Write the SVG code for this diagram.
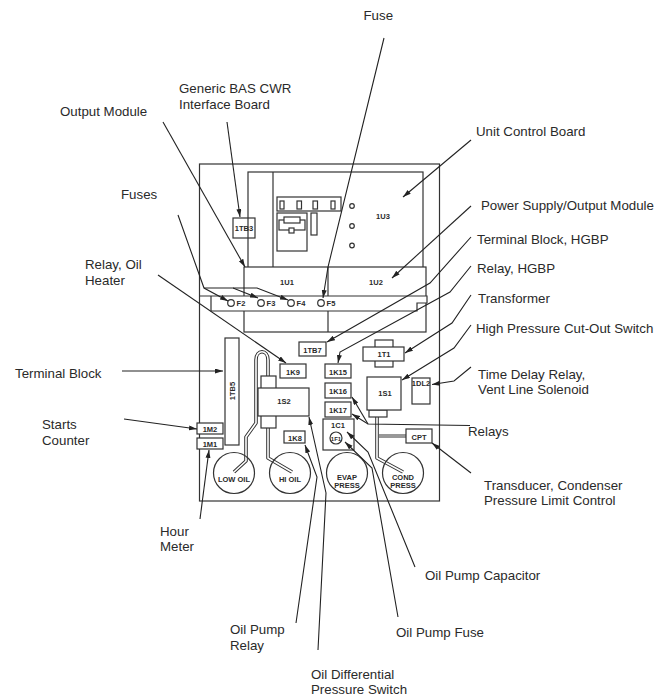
<svg xmlns="http://www.w3.org/2000/svg" width="668" height="698" viewBox="0 0 668 698">
<style>
.l{font:13.3px "Liberation Sans",Arial,sans-serif;fill:#2a2a2a}
.n{font:bold 7.5px "Liberation Sans",Arial,sans-serif;fill:#2a2a2a;text-anchor:middle}
.s{fill:#fff;stroke:#333;stroke-width:1.2}
.o{fill:none;stroke:#333;stroke-width:1.2}
.c{fill:none;stroke:#222;stroke-width:1.1;marker-end:url(#a)}
.tu{fill:none;stroke:#333;stroke-width:3.6;stroke-linejoin:round}
.ti{fill:none;stroke:#fff;stroke-width:1.6;stroke-linejoin:round}
</style>
<defs><marker id="a" markerUnits="userSpaceOnUse" markerWidth="9" markerHeight="6" refX="8" refY="2.5" orient="auto"><path d="M0 0L8 2.5L0 5z" fill="#222"/></marker></defs>
<rect width="668" height="698" fill="#fff"/>
<g id="panel">
<rect class="s" x="199.5" y="164" width="240" height="337"/>
<rect class="s" x="248" y="172" width="175" height="100"/>
<path class="o" d="M273 172V267"/>
<rect class="s" x="244" y="267" width="182" height="65"/>
<path class="o" d="M328 267V332"/>
<path class="s" d="M199.5 296H427V303H417V311H211V296"/>
<rect class="o" x="277" y="197" width="64" height="14"/><rect class="o" x="280" y="201" width="4" height="8"/><rect class="o" x="297" y="201" width="4.500" height="8"/><rect class="o" x="313" y="201" width="4.500" height="8"/><rect class="o" x="331" y="201" width="4" height="8"/>
<rect class="o" x="277" y="213" width="30" height="38"/><rect class="o" x="279" y="220" width="26" height="10"/><rect class="s" x="284" y="217" width="16" height="6"/><rect class="s" x="289" y="228" width="5" height="5"/>
<rect class="o" x="311" y="213" width="6" height="22"/>
<circle class="o" cx="352" cy="206" r="2.3"/><circle class="o" cx="352" cy="226" r="2.3"/><circle class="o" cx="352" cy="245.500" r="2.3"/>
<text class="n" x="383" y="219">1U3</text><text class="n" x="287" y="285">1U1</text><text class="n" x="376" y="285">1U2</text>
</g>
<g id="tb3"><rect class="o" x="233" y="218" width="22" height="20"/><text class="n" x="244" y="231">1TB3</text></g>
<g id="f2"><circle class="s" cx="231" cy="303" r="3.3"/><text class="n" x="241" y="305.500">F2</text></g>
<g id="f3"><circle class="s" cx="261" cy="303" r="3.3"/><text class="n" x="271" y="305.500">F3</text></g>
<g id="f4"><circle class="s" cx="291" cy="303" r="3.3"/><text class="n" x="301" y="305.500">F4</text></g>
<g id="f5"><circle class="s" cx="321" cy="303" r="3.3"/><text class="n" x="331" y="305.500">F5</text></g>
<g id="tb5"><rect class="s" x="225" y="338" width="14" height="107"/><text class="n" transform="translate(235,391) rotate(-90)">1TB5</text></g>
<g id="tb7"><rect class="s" x="299" y="342" width="27" height="14"/><text class="n" x="312.500" y="352.500">1TB7</text></g>
<g id="k9"><rect class="s" x="280" y="364" width="26" height="14"/><text class="n" x="293" y="374.500">1K9</text></g>
<g id="k15"><rect class="s" x="325" y="364" width="26" height="14"/><text class="n" x="338" y="374.500">1K15</text></g>
<g id="k16"><rect class="s" x="325" y="383" width="26" height="15"/><text class="n" x="338" y="394">1K16</text></g>
<g id="k17"><rect class="s" x="325" y="402" width="26" height="15"/><text class="n" x="338" y="413">1K17</text></g>
<g id="k8"><rect class="s" x="284" y="431" width="21" height="12"/><text class="n" x="295" y="440.500">1K8</text></g>
<g id="t1"><rect class="s" x="375" y="340" width="18" height="27"/><rect class="s" x="363" y="347" width="41" height="14"/><text class="n" x="384" y="357">1T1</text></g>
<g id="s1"><path class="tu" d="M377 417V458L403 472"/><path class="ti" d="M377 417V458L403 472"/><rect class="s" x="369" y="410" width="18" height="7"/><rect class="s" x="367" y="377" width="34" height="33"/><text class="n" x="385" y="396">1S1</text></g>
<g id="dl2"><rect class="s" x="412" y="378" width="18" height="26"/><text class="n" x="421" y="386">1DL2</text></g>
<g id="s2"><path class="tu" d="M234 472L246 461V437L256 423V360C256 349 268 349 268 360V376"/><path class="ti" d="M234 472L246 461V437L256 423V360C256 349 268 349 268 360V376"/><path class="tu" d="M268 428V458L292 472"/><path class="ti" d="M268 428V458L292 472"/><rect class="s" x="261" y="376" width="15" height="52"/><rect class="s" x="258" y="388" width="51" height="28"/><text class="n" x="284" y="404">1S2</text></g>
<g id="m2"><rect class="s" x="197" y="423" width="26" height="11"/><text class="n" x="210" y="431.500">1M2</text></g>
<g id="m1"><rect class="s" x="197" y="438" width="26" height="11"/><text class="n" x="210" y="446.500">1M1</text></g>
<g id="c1"><rect class="s" x="323" y="419" width="31" height="31"/><text class="n" x="338" y="428">1C1</text><circle class="s" cx="336" cy="438" r="6"/><text class="n" x="336" y="440.500" style="font-size:6px">1F1</text></g>
<g id="cpt"><path class="o" d="M379 435H406M379 437H406"/><rect class="s" x="406" y="429" width="26" height="14"/><text class="n" x="419" y="439.500">CPT</text></g>
<g id="low"><circle class="o" cx="234" cy="473" r="20.500"/><text class="n" x="234" y="482">LOW OIL</text></g>
<g id="hi"><circle class="o" cx="290" cy="473" r="20.500"/><text class="n" x="290" y="482">HI OIL</text></g>
<g id="evap"><circle class="o" cx="347" cy="473" r="20.500"/><text class="n" x="347" y="480">EVAP</text><text class="n" x="347" y="487.500">PRESS</text></g>
<g id="cond"><circle class="o" cx="403" cy="473" r="20.500"/><text class="n" x="403" y="480">COND</text><text class="n" x="403" y="487.500">PRESS</text></g>
<g id="connectors">
<path class="c" d="M384 38L328 267L323 298"/>
<path class="c" d="M227 122L240 217"/>
<path class="c" d="M163 122L245 267"/>
<path class="c" d="M178 215L204 288L228 301"/>
<path class="c" d="M204 288H233L258 298"/>
<path class="c" d="M233 288H257L288 300"/>
<path class="c" d="M471 140L403 197"/>
<path class="c" d="M471 206L392 278"/>
<path class="c" d="M471 237L430 283L327 342"/>
<path class="c" d="M471 266L450 292L340 352L338 363"/>
<path class="c" d="M471 295L452 323L405 353"/>
<path class="c" d="M471 325L454 348L402 380"/>
<path class="c" d="M471 367L454 381L432 384.500"/>
<path class="c" d="M158 275L286 363"/>
<path class="c" d="M122 371H223"/>
<path class="c" d="M124 419L197 429"/>
<path class="c" d="M200 519L209 450"/>
<path class="c" d="M296 623L317 477L305 445"/>
<path class="c" d="M318 650L326 493L309 417"/>
<path class="c" d="M415 567L368 452L347 432"/>
<path class="c" d="M398 617L372 468L345 442"/>
<path class="c" d="M471 473L432 443"/>
<path class="c" d="M470 425.500L368 424L352 414"/>
<path class="c" d="M368 424L352 397"/>
</g>
<g id="labels">
<text class="l" x="363.500" y="19.500">Fuse</text>
<text class="l" x="179" y="93">Generic BAS CWR</text><text class="l" x="179" y="109">Interface Board</text>
<text class="l" x="60" y="116">Output Module</text>
<text class="l" x="476" y="136">Unit Control Board</text>
<text class="l" x="121" y="199">Fuses</text>
<text class="l" x="481" y="210">Power Supply/Output Module</text>
<text class="l" x="477" y="244">Terminal Block, HGBP</text>
<text class="l" x="477" y="272.500">Relay, HGBP</text>
<text class="l" x="85" y="269">Relay, Oil</text><text class="l" x="85" y="285">Heater</text>
<text class="l" x="478" y="303">Transformer</text>
<text class="l" x="476" y="332.500">High Pressure Cut-Out Switch</text>
<text class="l" x="15" y="378">Terminal Block</text>
<text class="l" x="478" y="378.500">Time Delay Relay,</text><text class="l" x="478" y="394">Vent Line Solenoid</text>
<text class="l" x="468" y="435.500">Relays</text>
<text class="l" x="42" y="429">Starts</text><text class="l" x="42" y="445">Counter</text>
<text class="l" x="484" y="490">Transducer, Condenser</text><text class="l" x="484" y="505">Pressure Limit Control</text>
<text class="l" x="160" y="536">Hour</text><text class="l" x="160" y="551">Meter</text>
<text class="l" x="425" y="580">Oil Pump Capacitor</text>
<text class="l" x="396" y="637">Oil Pump Fuse</text>
<text class="l" x="230" y="634">Oil Pump</text><text class="l" x="230" y="650">Relay</text>
<text class="l" x="311" y="679">Oil Differential</text><text class="l" x="311" y="694">Pressure Switch</text>
</g>
</svg>
